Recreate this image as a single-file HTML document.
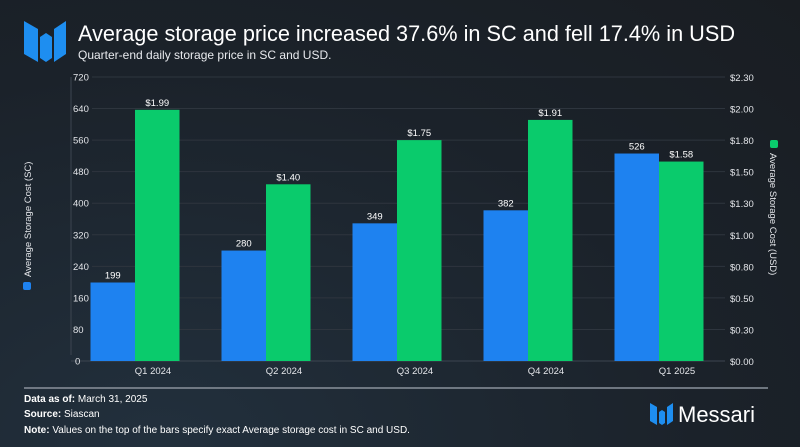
<!DOCTYPE html>
<html><head><meta charset="utf-8"><style>
html,body{margin:0;width:800px;height:447px;overflow:hidden}
body{background:radial-gradient(ellipse at 20% 100%,#22303d 0%,#1b222a 60%,#191d22 100%);font-family:"Liberation Sans",sans-serif;color:#fff}
svg{display:block}
</style></head><body>
<svg width="800" height="447" xmlns="http://www.w3.org/2000/svg" font-family="Liberation Sans, sans-serif">
<g fill="#1e8ef0">
<polygon points="24,21 38,29 38,62 24,54"/><polygon points="40,37 46,33 52,37 52,58 46,62 40,58"/><polygon points="54,29 66,21 66,54 54,62"/>
</g>
<text x="78" y="41" font-size="22" textLength="657" lengthAdjust="spacingAndGlyphs" fill="#fff">Average storage price increased 37.6% in SC and fell 17.4% in USD</text>
<text x="78" y="59" font-size="12" fill="#e8eaee">Quarter-end daily storage price in SC and USD.</text>
<g id="plot"></g>
<line x1="24" y1="388" x2="768" y2="388" stroke="#8a929c" stroke-width="1.5"/>
<text x="24" y="402" font-size="10" fill="#fff"><tspan font-weight="bold">Data as of:</tspan> March 31, 2025</text>
<text x="24" y="417" font-size="10" fill="#fff"><tspan font-weight="bold">Source:</tspan> Siascan</text>
<text x="24" y="433" font-size="10" fill="#fff"><tspan font-weight="bold">Note:</tspan> Values on the top of the bars specify exact Average storage cost in SC and USD.</text>
<g fill="#1e8ef0">
<polygon points="650,403 657,407 657,425 650,421"/><polygon points="659,412 662,410 665,412 665,423 662,425 659,423"/><polygon points="667,407 673,403 673,421 667,425"/>
</g>
<text x="678" y="422" font-size="22" fill="#fff">Messari</text>
</svg>
<script>
const categories=["Q1 2024","Q2 2024","Q3 2024","Q4 2024","Q1 2025"];
const scValues=[199,280,349,382,526];
const usdValues=[1.99,1.40,1.75,1.91,1.58];
const leftTicks=[0,80,160,240,320,400,480,560,640,720];
const rightTicks=["$0.00","$0.30","$0.50","$0.80","$1.00","$1.30","$1.50","$1.80","$2.00","$2.30"];
const NS="http://www.w3.org/2000/svg";
const g=document.getElementById('plot');
const x0=71,x1=725,yB=361,yT=77,leftMax=720,rightMax=2.25;
const yL=v=>yB-(yB-yT)*v/leftMax;
const yR=v=>yB-(yB-yT)*v/rightMax;
const cx=i=>135+i*131;
const bw=44.5;
function mk(t,a,txt){const e=document.createElementNS(NS,t);for(const k in a)e.setAttribute(k,a[k]);if(txt!=null)e.textContent=txt;g.appendChild(e);return e;}
leftTicks.forEach((t,i)=>{const y=yL(t);
const l=mk('line',{x1:i==0?x0:92,x2:x1,y1:y,y2:y,stroke:i==0?'#3c4550':'#2e353e','stroke-width':1});


const a=mk('text',{x:i==0?75:73,y:y+3.5,'font-size':9.5,fill:'#e4e6ea'},t);


const b=mk('text',{x:730,y:y+4,'font-size':9.5,fill:'#e4e6ea'},rightTicks[i]);

});
const ax=mk('line',{x1:x0,x2:x0,y1:yT,y2:yB-6,stroke:'#3c4550'});


categories.forEach((c,i)=>{const x=cx(i);
const r1=mk('rect',{x:x-bw,y:yL(scValues[i]),width:bw,height:yB-yL(scValues[i]),fill:'#1e82f0'});


const r2=mk('rect',{x:x,y:yR(usdValues[i]),width:bw,height:yB-yR(usdValues[i]),fill:'#0acb6c'});


const t1=mk('text',{x:x-bw/2,y:yL(scValues[i])-4,'font-size':9.5,fill:'#fff','text-anchor':'middle'},scValues[i]);


const t2=mk('text',{x:x+bw/2,y:yR(usdValues[i])-4,'font-size':9.5,fill:'#fff','text-anchor':'middle'},'$'+usdValues[i].toFixed(2));


const t3=mk('text',{x:x+18,y:374,'font-size':9.5,fill:'#e4e6ea','text-anchor':'middle'},c);

});
const lg1=mk('g',{transform:'translate(31,220) rotate(-90)'});


lg1.innerHTML='<rect x="-70" y="-8" width="8" height="8" rx="2" fill="#1e82f0"/><text x="-57" y="0" font-size="9.5" fill="#e4e6ea">Average Storage Cost (SC)</text>';
const lg2=mk('g',{transform:'translate(770,140) rotate(90)'});


lg2.innerHTML='<rect x="0" y="-8" width="8" height="8" rx="2" fill="#0acb6c"/><text x="13" y="0" font-size="9.5" fill="#e4e6ea">Average Storage Cost (USD)</text>';
</script>
</body></html>
